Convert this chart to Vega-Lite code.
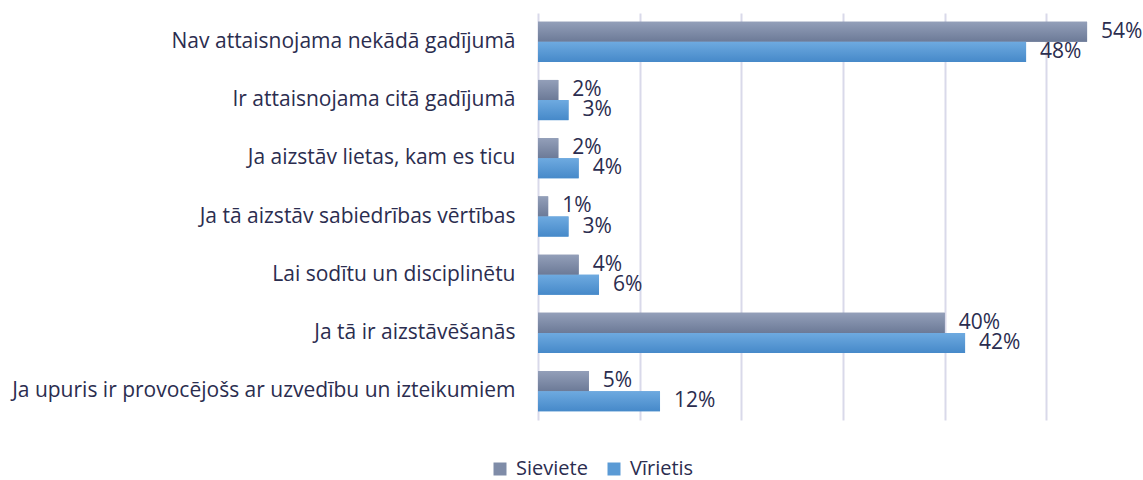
{
  "$schema": "https://vega.github.io/schema/vega-lite/v6.json",
  "width": 605,
  "height": 407,
  "autosize": {"type": "none"},
  "padding": {"left": 538, "top": 13, "right": 0, "bottom": 60},
  "background": "white",
  "config": {"view": {"stroke": null}, "font": "Open Sans"},
  "data": {
    "values": [
      {"cat": "Nav attaisnojama nekādā gadījumā", "g": "Sieviete", "v": 0.54},
      {"cat": "Nav attaisnojama nekādā gadījumā", "g": "Vīrietis", "v": 0.48},
      {"cat": "Ir attaisnojama citā gadījumā", "g": "Sieviete", "v": 0.02},
      {"cat": "Ir attaisnojama citā gadījumā", "g": "Vīrietis", "v": 0.03},
      {"cat": "Ja aizstāv lietas, kam es ticu", "g": "Sieviete", "v": 0.02},
      {"cat": "Ja aizstāv lietas, kam es ticu", "g": "Vīrietis", "v": 0.04},
      {"cat": "Ja tā aizstāv sabiedrības vērtības", "g": "Sieviete", "v": 0.01},
      {"cat": "Ja tā aizstāv sabiedrības vērtības", "g": "Vīrietis", "v": 0.03},
      {"cat": "Lai sodītu un disciplinētu", "g": "Sieviete", "v": 0.04},
      {"cat": "Lai sodītu un disciplinētu", "g": "Vīrietis", "v": 0.06},
      {"cat": "Ja tā ir aizstāvēšanās", "g": "Sieviete", "v": 0.40},
      {"cat": "Ja tā ir aizstāvēšanās", "g": "Vīrietis", "v": 0.42},
      {"cat": "Ja upuris ir provocējošs ar uzvedību un izteikumiem", "g": "Sieviete", "v": 0.05},
      {"cat": "Ja upuris ir provocējošs ar uzvedību un izteikumiem", "g": "Vīrietis", "v": 0.12}
    ]
  },
  "encoding": {
    "y": {
      "field": "cat", "type": "nominal", "sort": null, "title": null,
      "scale": {"paddingInner": 0.31, "paddingOuter": 0.15},
      "axis": {"ticks": false, "domain": false, "labelPadding": 23, "labelLimit": 700, "labelFontSize": 21, "labelColor": "#2b2d4f", "labelFont": "Open Sans"}
    },
    "yOffset": {"field": "g", "type": "nominal", "scale": {"domain": ["Sieviete", "Vīrietis"]}},
    "x": {
      "field": "v", "type": "quantitative", "title": null,
      "scale": {"domain": [0, 0.595], "nice": false, "zero": true},
      "axis": {"values": [0, 0.1, 0.2, 0.3, 0.4, 0.5], "labels": false, "ticks": false, "domain": false, "grid": true, "gridColor": "#d9d9ea", "gridWidth": 2}
    }
  },
  "layer": [
    {
      "mark": {"type": "bar"},
      "encoding": {
        "color": {
          "field": "g", "type": "nominal", "title": null,
          "scale": {"domain": ["Sieviete", "Vīrietis"], "range": ["#7f8ca8", "#5a9ad5"]},
          "legend": {
            "orient": "none", "direction": "horizontal", "legendX": -48, "legendY": 446,
            "symbolType": "square", "symbolSize": 169, "symbolStrokeWidth": 0, "symbolOpacity": 1,
            "labelFontSize": 20, "labelColor": "#2b2d4f", "labelFont": "Open Sans", "columnPadding": 16, "labelOffset": 6
          }
        }
      }
    },
    {
      "transform": [{"filter": "datum.g === 'Sieviete'"}],
      "mark": {"type": "bar", "color": {"gradient": "linear", "x1": 0, "y1": 0, "x2": 0, "y2": 1, "stops": [{"offset": 0, "color": "#939fb9"}, {"offset": 1, "color": "#6c7a97"}]}},
      "encoding": {}
    },
    {
      "transform": [{"filter": "datum.g === 'Vīrietis'"}],
      "mark": {"type": "bar", "color": {"gradient": "linear", "x1": 0, "y1": 0, "x2": 0, "y2": 1, "stops": [{"offset": 0, "color": "#6eaae0"}, {"offset": 1, "color": "#4689c9"}]}},
      "encoding": {}
    },
    {
      "mark": {"type": "text", "align": "left", "baseline": "middle", "dx": 14, "fontSize": 21, "color": "#2b2d4f"},
      "encoding": {
        "text": {"field": "v", "type": "quantitative", "format": ".0%"}
      }
    }
  ]
}
